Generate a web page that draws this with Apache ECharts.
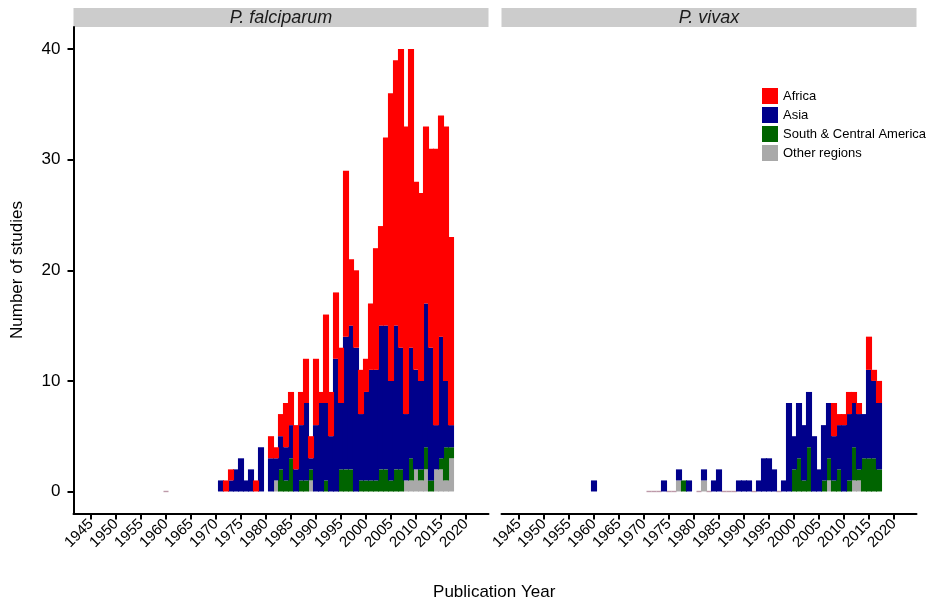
<!DOCTYPE html>
<html>
<head>
<meta charset="utf-8">
<script src="https://cdn.jsdelivr.net/npm/echarts@6/dist/echarts.min.js"></script>
<style>
  html, body { margin: 0; padding: 0; background: #ffffff; }
  #chart { width: 930px; height: 603px; }
</style>
</head>
<body>
<div id="chart"></div>
<script>
// ---- data: number of studies per publication year, by region ----
const regionNames = ['Africa', 'Asia', 'South & Central America', 'Other regions'];

// P. falciparum
const pfYears   = [1971,1972,1973,1974,1975,1976,1977,1978,1979,1980,
                   1981,1982,1983,1984,1985,1986,1987,1988,1989,1990,
                   1991,1992,1993,1994,1995,1996,1997,1998,1999,2000,
                   2001,2002,2003,2004,2005,2006,2007,2008,2009,2010,
                   2011,2012,2013,2014,2015,2016,2017];
const pfAfrica  = [0,1,1,0,0,0,0,1,0,0, 2,1,2,4,3,4,3,4,2,6, 1,8,4,6,5,15,6,7,4,3, 6,11,9,17,26,24,27,26,27,17, 17,16,18,25,20,23,17];
const pfAsia    = [1,0,1,2,3,1,2,0,4,0, 3,2,3,3,3,2,5,7,1,6, 8,7,5,12,6,12,13,13,6,8, 10,10,13,13,9,13,11,6,10,9, 8,13,12,4,11,6,2];
const pfAmerica = [0,0,0,0,0,0,0,0,0,0, 0,0,2,1,3,0,1,1,1,0, 0,1,0,0,2,2,2,0,1,1, 1,1,2,2,1,2,2,0,2,0, 1,2,1,0,1,3,1];
const pfOther   = [0,0,0,0,0,0,0,0,0,0, 0,1,0,0,0,0,0,0,1,0, 0,0,0,0,0,0,0,0,0,0, 0,0,0,0,0,0,0,1,1,2, 1,2,0,2,2,1,3];
const pfZeroYears = [1960];

// P. vivax
const pvYears   = [1960,1974,1977,1978,1979,1982,1984,1985,1989,1990,
                   1991,1993,1994,1995,1996,1998,1999,2000,2001,2002,
                   2003,2004,2005,2006,2007,2008,2009,2010,2011,2012,
                   2013,2014,2015,2016,2017];
const pvAfrica  = [0,0,0,0,0,0,0,0,0,0, 0,0,0,0,0,0,0,0,0,0, 0,0,0,0,0,3,1,1,2,1, 1,0,3,1,2];
const pvAsia    = [1,1,1,0,1,1,1,2,1,1, 1,1,3,3,2,1,8,3,5,5, 5,5,2,5,5,4,4,6,6,4, 5,4,8,7,6];
const pvAmerica = [0,0,0,1,0,0,0,0,0,0, 0,0,0,0,0,0,0,2,3,1, 4,0,0,1,2,1,2,0,1,3, 1,3,3,3,2];
const pvOther   = [0,0,1,0,0,1,0,0,0,0, 0,0,0,0,0,0,0,0,0,0, 0,0,0,0,1,0,0,0,0,1, 1,0,0,0,0];
const pvZeroYears = [1971,1972,1973,1975,1976,1981,1983,1986,1987,1988,1992,1997];

// axis: one category per year, ticks every five years
const firstYear = 1942, lastYear = 2024;
const yearTicks  = [1945,1950,1955,1960,1965,1970,1975,1980,1985,1990,1995,2000,2005,2010,2015,2020];
const countTicks = [0,10,20,30,40];

// ---- styling ----
const regionColors = {
  'Africa': '#FF0000',
  'Asia': '#00008B',
  'South & Central America': '#006400',
  'Other regions': '#A9A9A9'
};
const FONT = '"Liberation Sans", Arial, Helvetica, sans-serif';
const panelTop = 27, panelHeight = 486.6, panelWidth = 415;
const panelLefts = [73.5, 501.5];

const yearCategories = [];
for (let y = firstYear; y <= lastYear; y++) yearCategories.push(String(y));
const isTickYear = (idx, val) => yearTicks.indexOf(Number(val)) >= 0;

const panels = [
  { title: 'P. falciparum', years: pfYears, zeros: pfZeroYears,
    values: { 'Africa': pfAfrica, 'Asia': pfAsia, 'South & Central America': pfAmerica, 'Other regions': pfOther } },
  { title: 'P. vivax', years: pvYears, zeros: pvZeroYears,
    values: { 'Africa': pvAfrica, 'Asia': pvAsia, 'South & Central America': pvAmerica, 'Other regions': pvOther } }
];

const grids = [], xAxes = [], yAxes = [], series = [], graphics = [];
// bottom of the stack first
const stackOrder = ['Other regions', 'South & Central America', 'Asia', 'Africa'];

panels.forEach((p, i) => {
  grids.push({ left: panelLefts[i], top: panelTop, width: panelWidth, height: panelHeight, containLabel: false });
  xAxes.push({
    type: 'category', gridIndex: i, data: yearCategories, boundaryGap: true,
    splitLine: { show: false },
    axisLine: { show: true, onZero: false, lineStyle: { color: '#000', width: 2 } },
    axisTick: { show: true, length: 6, alignWithLabel: true, interval: isTickYear,
                lineStyle: { color: '#000', width: 2 } },
    axisLabel: { show: true, rotate: 45, margin: 8, color: '#000', fontSize: 15, fontFamily: FONT,
                 interval: isTickYear }
  });
  yAxes.push({
    type: 'value', gridIndex: i, min: -2, max: 42,
    splitLine: { show: false },
    axisLine: { show: i === 0, onZero: false, lineStyle: { color: '#000', width: 2 } },
    axisTick: { show: i === 0, length: 6, lineStyle: { color: '#000', width: 2 }, customValues: countTicks },
    axisLabel: { show: i === 0, margin: 13, color: '#000', fontSize: 17, fontFamily: FONT,
                 customValues: countTicks, formatter: v => String(v) }
  });
  stackOrder.forEach(region => {
    const vals = p.values[region];
    series.push({
      name: region, type: 'bar', xAxisIndex: i, yAxisIndex: i, stack: 'panel' + i,
      barWidth: '122%', silent: true,
      itemStyle: { color: regionColors[region] },
      data: yearCategories.map(c => {
        const k = p.years.indexOf(Number(c));
        return k >= 0 ? vals[k] : 0;
      })
    });
  });
  // years with a zero count show as a thin line at the baseline
  series.push({
    type: 'scatter', xAxisIndex: i, yAxisIndex: i, silent: true,
    symbol: 'rect', symbolSize: [5, 1.4],
    itemStyle: { color: '#ad8193' },
    data: p.zeros.map(y => [String(y), 0]), z: 1
  });
  // facet strip
  graphics.push({
    type: 'rect', left: panelLefts[i], top: 8,
    shape: { width: panelWidth, height: 19 },
    style: { fill: '#CCCCCC' }
  });
  graphics.push({
    type: 'text', x: panelLefts[i] + panelWidth / 2, y: 17.5,
    style: { text: p.title, fill: '#1A1A1A', font: 'italic 18px ' + FONT, textAlign: 'center', textVerticalAlign: 'middle' }
  });
});

graphics.push({
  type: 'text', x: 494.2, y: 592,
  style: { text: 'Publication Year', fill: '#000', font: '17px ' + FONT, textAlign: 'center', textVerticalAlign: 'middle' }
});
graphics.push({
  type: 'text', x: 17, y: 270, rotation: Math.PI / 2,
  style: { text: 'Number of studies', fill: '#000', font: '17px ' + FONT, textAlign: 'center', textVerticalAlign: 'middle' }
});

const chart = echarts.init(document.getElementById('chart'), null, { renderer: 'canvas' });
chart.setOption({
  animation: false,
  backgroundColor: '#ffffff',
  grid: grids,
  xAxis: xAxes,
  yAxis: yAxes,
  legend: {
    data: regionNames.map(n => ({ name: n, icon: 'rect', itemStyle: { color: regionColors[n] } })),
    orient: 'vertical', left: 762, top: 88, padding: 0,
    itemWidth: 16, itemHeight: 16, itemGap: 3,
    selectedMode: false,
    textStyle: { color: '#000', fontSize: 13, fontFamily: FONT }
  },
  graphic: graphics,
  series: series
});
</script>
</body>
</html>
